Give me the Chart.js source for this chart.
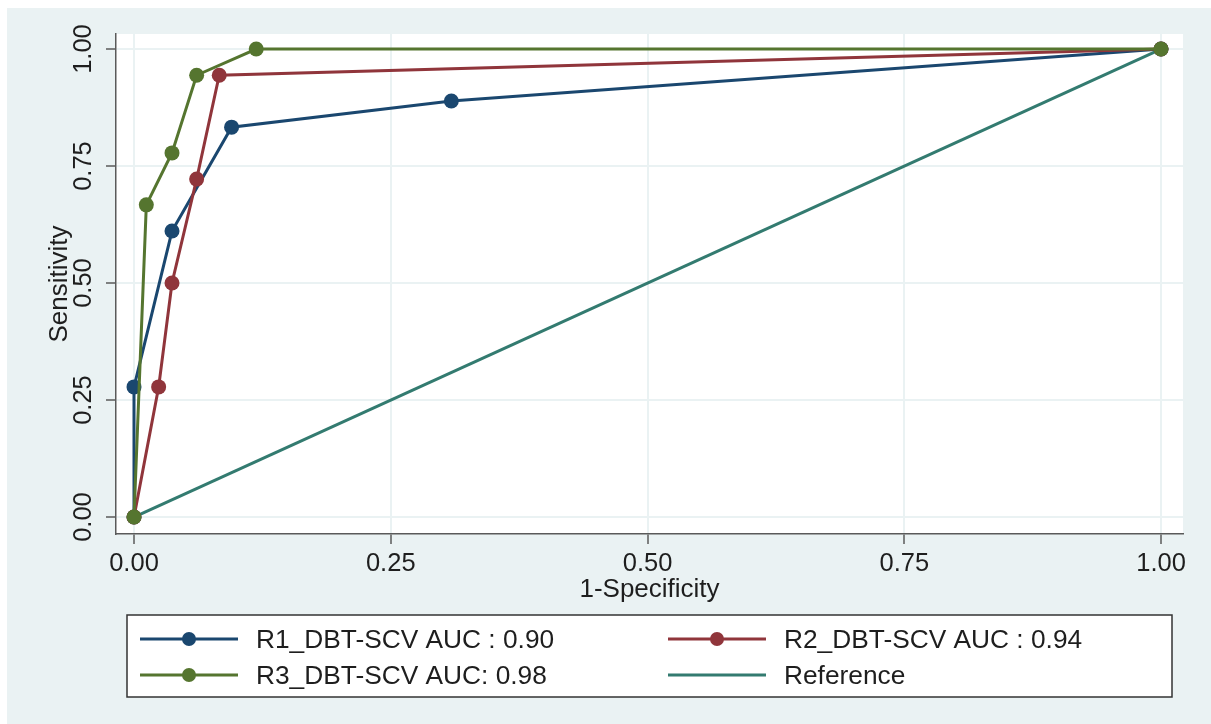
<!DOCTYPE html>
<html>
<head>
<meta charset="utf-8">
<script src="https://cdn.jsdelivr.net/npm/chart.js@4/dist/chart.umd.min.js"></script>
<style>
  html, body { margin: 0; padding: 0; background: #ffffff; }
  #wrap { position: absolute; left: 0; top: 0; width: 1211px; height: 724px; }
</style>
</head>
<body>
<div id="wrap"><canvas id="c" width="1211" height="724"></canvas></div>
<script>
// ---- data ----
const fprR1  = [0, 0, 0.037, 0.095, 0.309, 1];
const sensR1 = [0, 0.278, 0.611, 0.833, 0.889, 1];
const fprR2  = [0, 0.024, 0.037, 0.061, 0.083, 1];
const sensR2 = [0, 0.278, 0.500, 0.722, 0.944, 1];
const fprR3  = [0, 0.012, 0.037, 0.061, 0.119, 1];
const sensR3 = [0, 0.667, 0.778, 0.944, 1, 1];
const fprRef  = [0, 1];
const sensRef = [0, 1];

const seriesNames = ['R1_DBT-SCV AUC : 0.90', 'R2_DBT-SCV AUC : 0.94', 'R3_DBT-SCV AUC: 0.98', 'Reference'];
const xTickValues = [0, 0.25, 0.5, 0.75, 1];
const xTickLabels = ['0.00', '0.25', '0.50', '0.75', '1.00'];
const yTickValues = [0, 0.25, 0.5, 0.75, 1];
const yTickLabels = ['0.00', '0.25', '0.50', '0.75', '1.00'];
const xTitle = '1-Specificity';
const yTitle = 'Sensitivity';

// ---- styles ----
const FONT = '"Liberation Sans", Arial, sans-serif';
const colors = ['#1a476f', '#90353b', '#55752f', '#337b70'];
const BG = '#eaf2f3';
const AXIS = '#5a5a5a';
const TEXT = '#1e1e1e';

const toPts = (xs, ys) => xs.map((x, i) => ({ x: x, y: ys[i] }));

const bgPlugin = {
  id: 'bg',
  beforeDraw(chart) {
    const ctx = chart.ctx, a = chart.chartArea;
    ctx.save();
    ctx.fillStyle = '#ffffff';
    ctx.fillRect(0, 0, chart.width, chart.height);
    ctx.fillStyle = BG;
    ctx.fillRect(7, 8, chart.width - 7, chart.height - 8);
    ctx.fillStyle = '#ffffff';
    ctx.fillRect(a.left, a.top, a.right - a.left, a.bottom - a.top);
    ctx.restore();
  }
};

const yLabelPlugin = {
  id: 'ylabels',
  afterDraw(chart) {
    const ctx = chart.ctx, s = chart.scales.y;
    ctx.save();
    ctx.fillStyle = TEXT;
    ctx.font = '25.5px ' + FONT;
    ctx.textAlign = 'center';
    ctx.textBaseline = 'middle';
    s.ticks.forEach(t => {
      const i = yTickValues.indexOf(t.value);
      if (i < 0) return;
      const py = s.getPixelForValue(t.value);
      ctx.save();
      ctx.translate(84, py);
      ctx.rotate(-Math.PI / 2);
      ctx.fillText(yTickLabels[i], 0, 0);
      ctx.restore();
    });
    ctx.restore();
  }
};

const legendPlugin = {
  id: 'boxlegend',
  afterDraw(chart) {
    const ctx = chart.ctx;
    ctx.save();
    const bx = 127, by = 615, bw = 1045, bh = 82;
    ctx.fillStyle = '#ffffff';
    ctx.fillRect(bx, by, bw, bh);
    ctx.strokeStyle = '#333333';
    ctx.lineWidth = 1.5;
    ctx.strokeRect(bx, by, bw, bh);
    const cols = [140, 668];
    const rows = [639, 675];
    const order = [0, 1, 2, 3]; // R1, R2 (row1); R3, Reference (row2)
    order.forEach((k, n) => {
      const cx = cols[n % 2], cy = rows[Math.floor(n / 2)];
      ctx.strokeStyle = colors[k];
      ctx.lineWidth = 3;
      ctx.beginPath();
      ctx.moveTo(cx, cy);
      ctx.lineTo(cx + 98, cy);
      ctx.stroke();
      if (k < 3) {
        ctx.fillStyle = colors[k];
        ctx.beginPath();
        ctx.arc(cx + 49, cy, 7, 0, Math.PI * 2);
        ctx.fill();
      }
      ctx.fillStyle = TEXT;
      ctx.font = '26.3px ' + FONT;
      ctx.textAlign = 'left';
      ctx.textBaseline = 'middle';
      ctx.fillText(seriesNames[k], cx + 116, cy + 2);
    });
    ctx.restore();
  }
};

const lineDs = (i, xs, ys, withPts, ord) => ({
  label: seriesNames[i],
  data: toPts(xs, ys),
  borderColor: colors[i],
  backgroundColor: colors[i],
  borderWidth: 3,
  pointRadius: withPts ? 7.5 : 0,
  pointBorderWidth: 0,
  pointBackgroundColor: colors[i],
  tension: 0,
  fill: false,
  order: ord
});

new Chart(document.getElementById('c'), {
  type: 'line',
  data: {
    datasets: [
      lineDs(0, fprR1, sensR1, true, 3),
      lineDs(1, fprR2, sensR2, true, 2),
      lineDs(2, fprR3, sensR3, true, 1),
      lineDs(3, fprRef, sensRef, false, 4)
    ]
  },
  options: {
    responsive: false,
    devicePixelRatio: 1,
    animation: false,
    events: [],
    layout: { padding: { left: 0, right: 28, top: 34, bottom: 119 } },
    plugins: { legend: { display: false }, tooltip: { enabled: false } },
    scales: {
      x: {
        type: 'linear',
        min: -0.01753,
        max: 1.0214,
        afterBuildTicks(s) { s.ticks = xTickValues.map(v => ({ value: v })); },
        afterFit(s) { s.height = 71; },
        ticks: {
          color: TEXT,
          font: { family: FONT, size: 25.5 },
          padding: 5,
          maxRotation: 0,
          autoSkip: false,
          callback(v) { const i = xTickValues.indexOf(v); return i >= 0 ? xTickLabels[i] : ''; }
        },
        grid: { color: BG, lineWidth: 2, tickColor: AXIS, tickLength: 10, tickWidth: 1.5, drawTicks: true },
        border: { display: true, color: AXIS, width: 1.5 },
        title: { display: true, text: xTitle, color: TEXT, font: { family: FONT, size: 26, lineHeight: 1.2 }, padding: { top: 0, bottom: 0 } }
      },
      y: {
        type: 'linear',
        min: -0.0363,
        max: 1.0321,
        afterBuildTicks(s) { s.ticks = yTickValues.map(v => ({ value: v })); },
        afterFit(s) { s.width = 116; },
        ticks: { display: false },
        grid: { color: BG, lineWidth: 2, tickColor: AXIS, tickLength: 10, tickWidth: 1.5, drawTicks: true },
        border: { display: true, color: AXIS, width: 1.5 },
        title: { display: true, text: yTitle, color: TEXT, font: { family: FONT, size: 26, lineHeight: 1.2 }, padding: { top: 44, bottom: 0 } }
      }
    }
  },
  plugins: [bgPlugin, yLabelPlugin, legendPlugin]
});
</script>
</body>
</html>
